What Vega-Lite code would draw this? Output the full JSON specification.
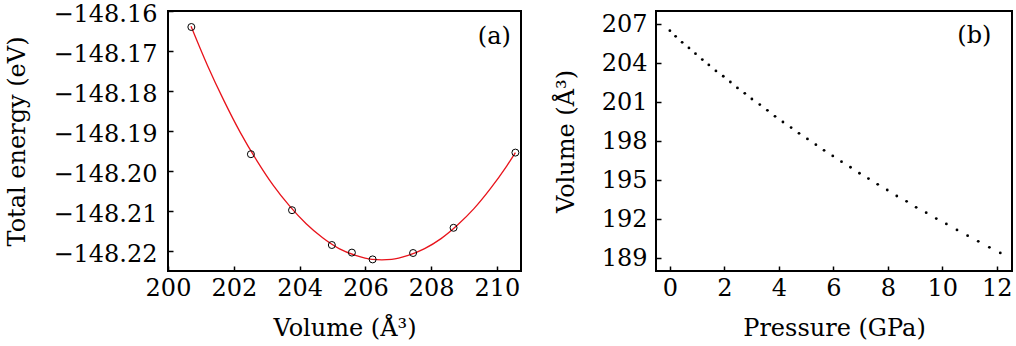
{
  "$schema": "https://vega.github.io/schema/vega-lite/v6.json",
  "padding": {"left": 4, "top": 1, "right": 2, "bottom": 0},
  "background": "white",
  "config": {
    "font": "DejaVu Serif",
    "view": {"stroke": "black", "strokeWidth": 2},
    "axis": {
      "domain": false, "grid": false, "ticks": true,
      "labelFont": "DejaVu Serif", "labelFontSize": 24, "labelColor": "black",
      "titleFont": "DejaVu Serif", "titleFontSize": 24, "titleFontWeight": "normal", "titleColor": "black",
      "tickColor": "black", "tickWidth": 1.5, "tickSize": 5, "offset": -5,
      "labelOverlap": false, "labelFlush": false
    }
  },
  "datasets": {
    "curve": [
      {"V":200.7,"E":-148.1638},{"V":201.2,"E":-148.1736},{"V":201.7,"E":-148.1824},{"V":202.2,"E":-148.1904},
      {"V":202.7,"E":-148.1974},{"V":203.2,"E":-148.2036},{"V":203.7,"E":-148.2088},{"V":204.2,"E":-148.2132},
      {"V":204.7,"E":-148.2167},{"V":205.2,"E":-148.2194},{"V":205.7,"E":-148.2211},{"V":206.2,"E":-148.2221},
      {"V":206.5,"E":-148.2222},{"V":206.8,"E":-148.2221},{"V":207.3,"E":-148.2211},{"V":207.8,"E":-148.2194},
      {"V":208.3,"E":-148.2169},{"V":208.8,"E":-148.2135},{"V":209.3,"E":-148.2094},{"V":209.8,"E":-148.2044},
      {"V":210.3,"E":-148.1987},{"V":210.56,"E":-148.1954}
    ],
    "energy": [
      {"V":200.71,"E":-148.164},{"V":202.52,"E":-148.1958},{"V":203.77,"E":-148.2098},{"V":204.98,"E":-148.2185},
      {"V":205.59,"E":-148.2204},{"V":206.22,"E":-148.2221},{"V":207.45,"E":-148.2205},{"V":208.68,"E":-148.2142},
      {"V":210.56,"E":-148.1954}
    ],
    "pv": [
      {"P":0.0,"V":206.49},{"P":0.21,"V":206.05},{"P":0.45,"V":205.59},{"P":0.70,"V":205.16},{"P":0.94,"V":204.72},
      {"P":1.19,"V":204.26},{"P":1.43,"V":203.85},{"P":1.69,"V":203.39},{"P":1.96,"V":202.98},{"P":2.22,"V":202.54},
      {"P":2.48,"V":202.08},{"P":2.75,"V":201.67},{"P":3.01,"V":201.23},{"P":3.30,"V":200.80},{"P":3.58,"V":200.36},
      {"P":3.86,"V":199.90},{"P":4.15,"V":199.46},{"P":4.45,"V":199.03},{"P":4.74,"V":198.59},{"P":5.05,"V":198.16},
      {"P":5.36,"V":197.72},{"P":5.66,"V":197.28},{"P":5.98,"V":196.85},{"P":6.30,"V":196.41},{"P":6.63,"V":195.98},
      {"P":6.96,"V":195.52},{"P":7.29,"V":195.11},{"P":7.63,"V":194.67},{"P":7.98,"V":194.23},{"P":8.33,"V":193.77},
      {"P":8.69,"V":193.36},{"P":9.04,"V":192.90},{"P":9.41,"V":192.49},{"P":9.78,"V":192.03},{"P":10.15,"V":191.62},
      {"P":10.54,"V":191.16},{"P":10.93,"V":190.72},{"P":11.32,"V":190.28},{"P":11.73,"V":189.82},{"P":12.13,"V":189.39}
    ]
  },
  "spacing": 31,
  "hconcat": [
    {
      "width": 353,
      "height": 260,
      "layer": [
        {
          "data": {"name": "curve"},
          "mark": {"type": "line", "color": "#e8131b", "strokeWidth": 1.3, "interpolate": "monotone"},
          "encoding": {
            "x": {
              "field": "V", "type": "quantitative", "title": "Volume (Å³)",
              "scale": {"domain": [200, 210.73], "nice": false, "zero": false},
              "axis": {
                "values": [200,201,202,203,204,205,206,207,208,209,210],
                "format": "d",
                "labelExpr": "datum.value % 2 == 0 ? datum.label : ''",
                "tickDash": {"condition": {"test": "datum.value % 2 == 0", "value": [5, 0]}, "value": [0, 2, 3, 0]},
                "labelPadding": 5, "titlePadding": 16
              }
            },
            "y": {
              "field": "E", "type": "quantitative", "title": "Total energy (eV)",
              "scale": {"domain": [-148.225, -148.16], "nice": false, "zero": false},
              "axis": {
                "values": [-148.22,-148.215,-148.21,-148.205,-148.2,-148.195,-148.19,-148.185,-148.18,-148.175,-148.17,-148.165,-148.16],
                "format": ".2f",
                "labelExpr": "abs(datum.value*100 - round(datum.value*100)) < 0.01 ? datum.label : ''",
                "tickDash": {"condition": {"test": "abs(datum.value*100 - round(datum.value*100)) < 0.01", "value": [5, 0]}, "value": [0, 2, 3, 0]},
                "labelOffset": 3,
                "labelPadding": 11, "titlePadding": 23
              }
            }
          }
        },
        {
          "data": {"name": "energy"},
          "mark": {"type": "point", "shape": "circle", "filled": false, "color": "black", "size": 49, "strokeWidth": 1, "opacity": 1},
          "encoding": {
            "x": {"field": "V", "type": "quantitative", "title": "Volume (Å³)"},
            "y": {"field": "E", "type": "quantitative", "title": "Total energy (eV)"}
          }
        },
        {
          "data": {"values": [{"tag": "(a)"}]},
          "mark": {"type": "text", "fontSize": 24, "font": "DejaVu Serif", "color": "black", "align": "center", "baseline": "middle"},
          "encoding": {
            "x": {"datum": 209.92, "type": "quantitative", "title": "Volume (Å³)"},
            "y": {"datum": -148.1665, "type": "quantitative", "title": "Total energy (eV)"},
            "text": {"field": "tag"}
          }
        }
      ]
    },
    {
      "width": 356,
      "height": 260,
      "layer": [
        {
          "data": {"name": "pv"},
          "mark": {"type": "circle", "color": "black", "size": 8, "opacity": 1},
          "encoding": {
            "x": {
              "field": "P", "type": "quantitative", "title": "Pressure (GPa)",
              "scale": {"domain": [-0.51, 12.56], "nice": false, "zero": false},
              "axis": {
                "values": [0,1,2,3,4,5,6,7,8,9,10,11,12],
                "format": "d",
                "labelExpr": "datum.value % 2 == 0 ? datum.label : ''",
                "tickDash": {"condition": {"test": "datum.value % 2 == 0", "value": [5, 0]}, "value": [0, 2, 3, 0]},
                "labelPadding": 5, "titlePadding": 16
              }
            },
            "y": {
              "field": "V", "type": "quantitative", "title": "Volume (Å³)",
              "scale": {"domain": [188, 208], "nice": false, "zero": false},
              "axis": {
                "values": [189,190.5,192,193.5,195,196.5,198,199.5,201,202.5,204,205.5,207],
                "format": "d",
                "labelExpr": "datum.value % 3 == 0 ? datum.label : ''",
                "tickDash": {"condition": {"test": "datum.value % 3 == 0", "value": [5, 0]}, "value": [0, 2, 3, 0]},
                "labelPadding": 9, "titlePadding": 23
              }
            }
          }
        },
        {
          "data": {"values": [{"tag": "(b)"}]},
          "mark": {"type": "text", "fontSize": 24, "font": "DejaVu Serif", "color": "black", "align": "center", "baseline": "middle"},
          "encoding": {
            "x": {"datum": 11.18, "type": "quantitative", "title": "Pressure (GPa)"},
            "y": {"datum": 206.05, "type": "quantitative", "title": "Volume (Å³)"},
            "text": {"field": "tag"}
          }
        }
      ]
    }
  ]
}
